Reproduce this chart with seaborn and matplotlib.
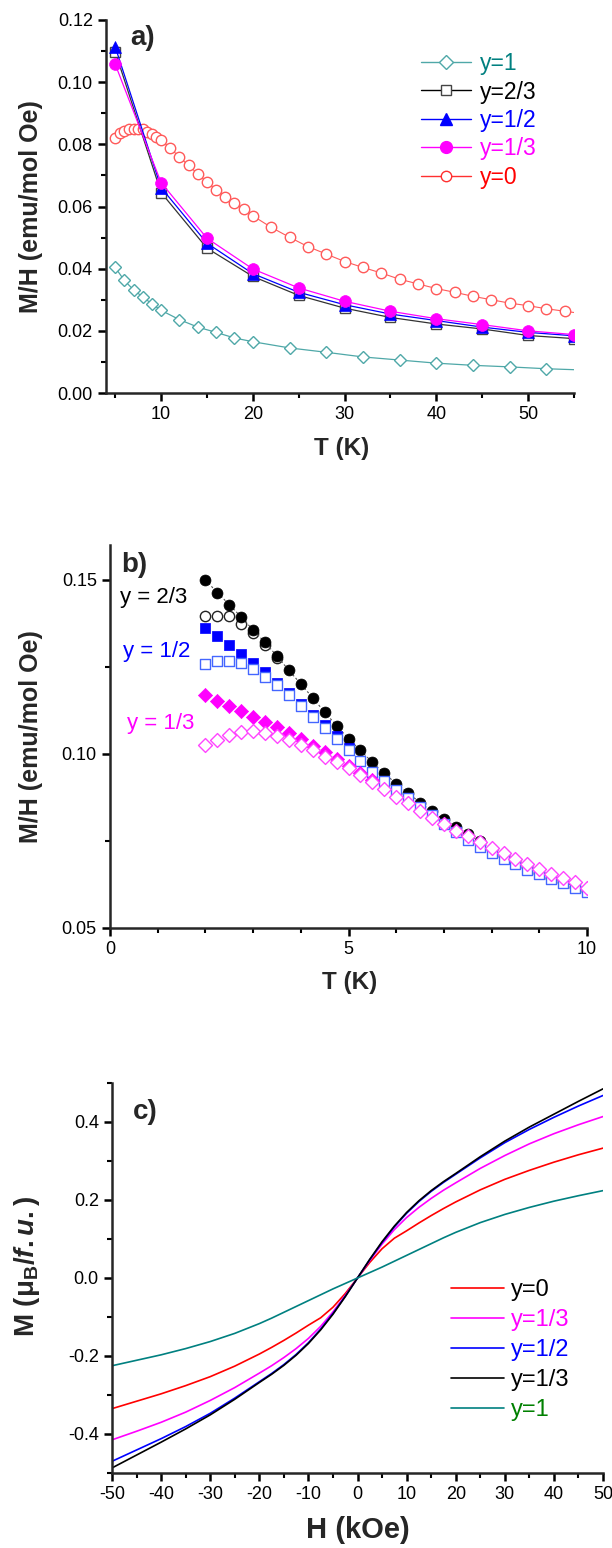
import numpy as np
import pandas as pd
import matplotlib
matplotlib.use("Agg")
import matplotlib.pyplot as plt
from matplotlib.ticker import MultipleLocator, FormatStrFormatter
from matplotlib.lines import Line2D
import seaborn as sns

# ---------------- data: panel a ----------------
T_y1 = [5, 6, 7, 8, 9, 10, 12, 14, 16, 18, 20, 24, 28, 32, 36, 40, 44, 48, 52, 56]
M_y1 = [0.0404, 0.0362, 0.0332, 0.0309, 0.0287, 0.0266, 0.0236, 0.0212, 0.0195, 0.0177,
        0.0165, 0.0145, 0.0131, 0.0116, 0.0106, 0.0096, 0.0089, 0.0084, 0.0078, 0.0074]

T_y0 = [5, 5.5, 6, 6.5, 7, 7.5, 8, 8.5, 9, 9.5, 10, 11, 12, 13, 14, 15, 16, 17, 18, 19, 20,
        22, 24, 26, 28, 30, 32, 34, 36, 38, 40, 42, 44, 46, 48, 50, 52, 54, 56]
M_y0 = [0.0821, 0.0836, 0.0844, 0.0848, 0.0850, 0.0850, 0.0848, 0.0841, 0.0832, 0.0825, 0.0814,
        0.0788, 0.0759, 0.0732, 0.0705, 0.0678, 0.0654, 0.0632, 0.0611, 0.0591, 0.0570,
        0.0533, 0.0501, 0.0471, 0.0447, 0.0423, 0.0404, 0.0386, 0.0366, 0.0351, 0.0336,
        0.0324, 0.0311, 0.0300, 0.0289, 0.0281, 0.0271, 0.0263, 0.0255]

T_5 = [5, 10, 15, 20, 25, 30, 35, 40, 45, 50, 55]
M_y23 = [0.1098, 0.0645, 0.0466, 0.0375, 0.0314, 0.0273, 0.0243, 0.0222, 0.0206, 0.0185, 0.0175]
M_y12 = [0.1114, 0.0661, 0.0482, 0.0384, 0.0324, 0.0284, 0.0254, 0.0233, 0.0212, 0.0195, 0.0184]
M_y13 = [0.1058, 0.0677, 0.0498, 0.0399, 0.0338, 0.0295, 0.0263, 0.0239, 0.0220, 0.0200, 0.0188]

# ---------------- data: panel b ----------------
Tb = [2.0, 2.25, 2.5, 2.75, 3.0, 3.25, 3.5, 3.75, 4.0, 4.25, 4.5, 4.75, 5.0, 5.25, 5.5, 5.75,
      6.0, 6.25, 6.5, 6.75, 7.0, 7.25, 7.5, 7.75, 8.0, 8.25, 8.5, 8.75, 9.0, 9.25, 9.5, 9.75, 10.0]
b_23_fc = [0.1500, 0.1463, 0.1429, 0.1393, 0.1356, 0.1320, 0.1281, 0.1240, 0.1201, 0.1161, 0.1120,
           0.1081, 0.1044, 0.1010, 0.0976, 0.0944, 0.0915, 0.0888, 0.0860, 0.0835, 0.0812, 0.0790,
           0.0769, 0.0749, 0.0728, 0.0708, 0.0690, 0.0674, 0.0659, 0.0645, 0.0632, 0.0619, 0.0606]
Tb_23_zfc = [2.0, 2.25, 2.5, 2.75, 3.0, 3.25, 3.5]
b_23_zfc = [0.1395, 0.1397, 0.1395, 0.1374, 0.1346, 0.1314, 0.1276]
Tb_12_fc = [2.0, 2.25, 2.5, 2.75, 3.0, 3.25, 3.5, 3.75, 4.0, 4.25, 4.5, 4.75, 5.0]
b_12_fc = [0.1363, 0.1339, 0.1313, 0.1287, 0.1262, 0.1236, 0.1204, 0.1175, 0.1144, 0.1113,
           0.1082, 0.1051, 0.1018]
b_12_zfc = [0.1259, 0.1266, 0.1268, 0.1261, 0.1245, 0.1222, 0.1197, 0.1168, 0.1137, 0.1106, 0.1075,
            0.1044, 0.1012, 0.0980, 0.0949, 0.0922, 0.0897, 0.0872, 0.0848, 0.0824, 0.0800, 0.0777,
            0.0754, 0.0732, 0.0716, 0.0698, 0.0684, 0.0668, 0.0655, 0.0641, 0.0628, 0.0615, 0.0602]
Tb_13_fc = [2.0, 2.25, 2.5, 2.75, 3.0, 3.25, 3.5, 3.75, 4.0, 4.25, 4.5, 4.75, 5.0, 5.25, 5.5]
b_13_fc = [0.1169, 0.1153, 0.1137, 0.1122, 0.1107, 0.1092, 0.1076, 0.1060, 0.1043, 0.1023, 0.1005,
           0.0986, 0.0965, 0.0945, 0.0924]
b_13_zfc = [0.1026, 0.1039, 0.1054, 0.1063, 0.1065, 0.1060, 0.1052, 0.1039, 0.1026, 0.1012, 0.0992,
            0.0976, 0.0959, 0.0939, 0.0919, 0.0898, 0.0877, 0.0858, 0.0836, 0.0817, 0.0800, 0.0780,
            0.0763, 0.0747, 0.0730, 0.0715, 0.0698, 0.0684, 0.0670, 0.0655, 0.0643, 0.0631, 0.0615]

# ---------------- data: panel c ----------------
H = [-50, -45, -40, -35, -30, -25, -20, -17.5, -15, -12.5, -10, -7.5, -5, -2.5, 0,
     2.5, 5, 7.5, 10, 12.5, 15, 17.5, 20, 25, 30, 35, 40, 45, 50]
Mc_y0 = [-0.335, -0.316, -0.297, -0.276, -0.253, -0.226, -0.195, -0.178, -0.160, -0.141, -0.121, -0.102,
         -0.075, -0.040, 0.0,
         0.040, 0.075, 0.102, 0.121, 0.141, 0.160, 0.178, 0.195, 0.226, 0.253, 0.276, 0.297, 0.316, 0.333]
Mc_y13 = [-0.415, -0.393, -0.370, -0.344, -0.314, -0.281, -0.244, -0.225, -0.204, -0.181, -0.155, -0.124,
          -0.087, -0.045, 0.0,
          0.045, 0.087, 0.124, 0.155, 0.181, 0.204, 0.225, 0.244, 0.281, 0.314, 0.344, 0.370, 0.393, 0.414]
Mc_y12 = [-0.470, -0.441, -0.412, -0.381, -0.347, -0.308, -0.266, -0.245, -0.222, -0.196, -0.166, -0.131,
          -0.091, -0.047, 0.0,
          0.047, 0.091, 0.131, 0.166, 0.196, 0.222, 0.245, 0.266, 0.308, 0.347, 0.381, 0.412, 0.441, 0.468]
Mc_y13b = [-0.487, -0.454, -0.421, -0.387, -0.351, -0.311, -0.268, -0.247, -0.224, -0.198, -0.168, -0.133,
           -0.093, -0.048, 0.0,
           0.048, 0.093, 0.133, 0.168, 0.198, 0.224, 0.247, 0.268, 0.311, 0.351, 0.387, 0.420, 0.453, 0.485]
Mc_y1 = [-0.225, -0.211, -0.197, -0.181, -0.163, -0.142, -0.117, -0.103, -0.088, -0.073, -0.058, -0.043,
         -0.028, -0.014, 0.0,
         0.014, 0.028, 0.043, 0.058, 0.073, 0.088, 0.103, 0.117, 0.142, 0.163, 0.181, 0.197, 0.211, 0.224]

legend_a = ["y=1", "y=2/3", "y=1/2", "y=1/3", "y=0"]
legend_c = ["y=0", "y=1/3", "y=1/2", "y=1/3", "y=1"]

# ---------------- style ----------------
sns.set_style("ticks")
plt.rcParams["font.family"] = ["Liberation Sans", "DejaVu Sans"]
plt.rcParams["axes.unicode_minus"] = False
plt.rcParams["mathtext.fontset"] = "custom"
plt.rcParams["mathtext.rm"] = "Liberation Sans:bold"
plt.rcParams["mathtext.it"] = "Liberation Sans:bold:italic"
plt.rcParams["mathtext.bf"] = "Liberation Sans:bold"
plt.rcParams["axes.linewidth"] = 1.8
for ax_ in ("xtick", "ytick"):
    plt.rcParams[f"{ax_}.major.width"] = 1.8
    plt.rcParams[f"{ax_}.minor.width"] = 1.5
    plt.rcParams[f"{ax_}.major.size"] = 6
    plt.rcParams[f"{ax_}.minor.size"] = 3.5
    plt.rcParams[f"{ax_}.direction"] = "out"
    plt.rcParams[f"{ax_}.labelsize"] = 13
    plt.rcParams[f"{ax_}.color"] = "black"

W, Hh = 612, 1548
fig = plt.figure(figsize=(W / 100, Hh / 100), dpi=100)


def add_axes(l, r, t, b):
    return fig.add_axes([l / W, 1 - b / Hh, (r - l) / W, (b - t) / Hh])


ax_a = add_axes(106, 574, 20, 393)
ax_b = add_axes(110, 587, 545, 928)
ax_c = add_axes(112, 603, 1083, 1473)

TEAL_L = "#4fa8a8"
RED_L = "#ff5a5a"

# ---------------- panel a ----------------
sns.lineplot(x=T_y1, y=M_y1, ax=ax_a, color=TEAL_L, linewidth=0.9, marker="D", markersize=6.5,
             markerfacecolor="white", markeredgecolor=TEAL_L, markeredgewidth=1.0,
             markevery=list(range(len(T_y1) - 1)), sort=False)
sns.lineplot(x=T_y0, y=M_y0, ax=ax_a, color=RED_L, linewidth=0.8, marker="o", markersize=7.5,
             markerfacecolor="white", markeredgecolor=RED_L, markeredgewidth=1.0,
             markevery=list(range(len(T_y0) - 1)), sort=False)
sns.lineplot(x=T_5, y=M_y23, ax=ax_a, color="#333333", linewidth=0.9, marker="s", markersize=6.5,
             markerfacecolor="white", markeredgecolor="#444444", markeredgewidth=1.0, sort=False)
sns.lineplot(x=T_5, y=M_y12, ax=ax_a, color="#0000ff", linewidth=0.9, marker="^", markersize=8,
             markerfacecolor="#0000ff", markeredgecolor="#0000ff", markeredgewidth=0.5, sort=False)
sns.lineplot(x=T_5, y=M_y13, ax=ax_a, color="#ff00ff", linewidth=0.9, marker="o", markersize=8.5,
             markerfacecolor="#ff00ff", markeredgecolor="#ff00ff", markeredgewidth=0.5, sort=False)
ax_a.set_xlim(4, 55)
ax_a.set_ylim(0, 0.12)
ax_a.xaxis.set_major_locator(MultipleLocator(10))
ax_a.xaxis.set_minor_locator(MultipleLocator(5))
ax_a.yaxis.set_major_locator(MultipleLocator(0.02))
ax_a.yaxis.set_minor_locator(MultipleLocator(0.01))
ax_a.yaxis.set_major_formatter(FormatStrFormatter("%.2f"))
ax_a.set_xlabel("T (K)", fontsize=17.5, fontweight="bold")
ax_a.set_ylabel("M/H (emu/mol Oe)", fontsize=18, fontweight="bold")
ax_a.xaxis.set_label_coords((342 - 106) / 468, -(448 - 393) / 373)
ax_a.xaxis.label.set_verticalalignment("center")
ax_a.yaxis.set_label_coords(-0.135, 0.5)
ax_a.text(0.052, 0.952, "a)", transform=ax_a.transAxes, fontsize=20, fontweight="bold", va="center")

h_a = [
    Line2D([], [], color=TEAL_L, lw=1.0, marker="D", ms=7, mfc="white", mec=TEAL_L),
    Line2D([], [], color="black", lw=1.0, marker="s", ms=7, mfc="white", mec="#444444"),
    Line2D([], [], color="#0000ff", lw=1.0, marker="^", ms=8.5, mfc="#0000ff", mec="#0000ff"),
    Line2D([], [], color="#ff00ff", lw=1.0, marker="o", ms=8.5, mfc="#ff00ff", mec="#ff00ff"),
    Line2D([], [], color="#ff3030", lw=1.0, marker="o", ms=7.5, mfc="white", mec="#ff3030"),
]
leg_a = ax_a.legend(h_a, legend_a, loc="upper left", bbox_to_anchor=(421 / W, 1 - 52 / Hh),
                    bbox_transform=fig.transFigure, frameon=False, fontsize=16.5, handlelength=2.2,
                    handletextpad=0.35, labelspacing=0.24, borderpad=0, borderaxespad=0)
for txt, c in zip(leg_a.get_texts(), ["#008080", "black", "#0000ff", "#ff00ff", "#ff0000"]):
    txt.set_color(c)

# ---------------- panel b ----------------
sns.scatterplot(x=Tb_23_zfc, y=b_23_zfc, ax=ax_b, marker="o", s=55, facecolor="white",
                edgecolor="#222222", linewidth=1.0, color="black", zorder=2)
sns.lineplot(x=Tb, y=b_23_fc, ax=ax_b, color="#555555", linewidth=0.8, linestyle=(0, (2, 2)),
             sort=False, zorder=2)
sns.scatterplot(x=Tb, y=b_23_fc, ax=ax_b, marker="o", s=62, color="black", edgecolor="black",
                linewidth=0.5, zorder=3)
sns.scatterplot(x=Tb_12_fc, y=b_12_fc, ax=ax_b, marker="s", s=52, color="#0000ff", edgecolor="#0000ff",
                linewidth=0.5, zorder=4)
sns.scatterplot(x=Tb, y=b_12_zfc, ax=ax_b, marker="s", s=50, facecolor="white", edgecolor="#4466ff",
                linewidth=1.0, color="#4466ff", zorder=5)
sns.scatterplot(x=Tb_13_fc, y=b_13_fc, ax=ax_b, marker="D", s=52, color="#ff00ff", edgecolor="#ff00ff",
                linewidth=0.5, zorder=6)
sns.scatterplot(x=Tb, y=b_13_zfc, ax=ax_b, marker="D", s=50, facecolor="white", edgecolor="#ff44ff",
                linewidth=1.0, color="#ff44ff", zorder=7)
ax_b.set_xlim(0, 10)
ax_b.set_ylim(0.05, 0.16)
ax_b.xaxis.set_major_locator(MultipleLocator(5))
ax_b.xaxis.set_minor_locator(MultipleLocator(1))
ax_b.yaxis.set_major_locator(MultipleLocator(0.05))
ax_b.yaxis.set_minor_locator(MultipleLocator(0.025))
ax_b.yaxis.set_major_formatter(FormatStrFormatter("%.2f"))
ax_b.set_xlabel("T (K)", fontsize=17.5, fontweight="bold")
ax_b.set_ylabel("M/H (emu/mol Oe)", fontsize=18, fontweight="bold")
ax_b.xaxis.set_label_coords((350 - 110) / 477, -(983 - 928) / 383)
ax_b.xaxis.label.set_verticalalignment("center")
ax_b.yaxis.set_label_coords(-0.141, 0.5)
ax_b.text(0.023, 0.948, "b)", transform=ax_b.transAxes, fontsize=20, fontweight="bold", va="center")
ax_b.text(0.021, 0.862, "y = 2/3", transform=ax_b.transAxes, fontsize=16, color="black", va="center")
ax_b.text(0.027, 0.721, "y = 1/2", transform=ax_b.transAxes, fontsize=16, color="#0000ff", va="center")
ax_b.text(0.036, 0.533, "y = 1/3", transform=ax_b.transAxes, fontsize=16, color="#ff00ff", va="center")

# ---------------- panel c ----------------
curves = [(Mc_y0, "#ff0000"), (Mc_y13, "#ff00ff"), (Mc_y12, "#0000ff"), (Mc_y13b, "black"), (Mc_y1, "#008080")]
for vals, col in curves:
    sns.lineplot(x=H, y=vals, ax=ax_c, color=col, linewidth=1.2, sort=False)
ax_c.set_xlim(-50, 50)
ax_c.set_ylim(-0.5, 0.5)
ax_c.xaxis.set_major_locator(MultipleLocator(10))
ax_c.xaxis.set_minor_locator(MultipleLocator(5))
ax_c.yaxis.set_major_locator(MultipleLocator(0.2))
ax_c.yaxis.set_minor_locator(MultipleLocator(0.1))
ax_c.yaxis.set_major_formatter(FormatStrFormatter("%.1f"))
ax_c.set_xlabel("H (kOe)", fontsize=21, fontweight="bold")
ax_c.set_ylabel(r"M ($\mathregular{\mu_B}$/$\it{f.u.}$)", fontsize=20, fontweight="bold")
ax_c.xaxis.set_label_coords((358 - 112) / 491, -(1530 - 1473) / 390)
ax_c.xaxis.label.set_verticalalignment("center")
ax_c.yaxis.set_label_coords(-(112 - 42) / 491, 0.53)
ax_c.text(0.043, 0.926, "c)", transform=ax_c.transAxes, fontsize=20, fontweight="bold", va="center")

h_c = [Line2D([], [], color=c, lw=1.2) for _, c in curves]
leg_c = ax_c.legend(h_c, legend_c, loc="upper left", bbox_to_anchor=(451 / W, 1 - 1279 / Hh),
                    bbox_transform=fig.transFigure, frameon=False, fontsize=17, handlelength=2.25,
                    handletextpad=0.3, labelspacing=0.34, borderpad=0, borderaxespad=0)
for txt, c in zip(leg_c.get_texts(), ["black", "#ff00ff", "#0000ff", "black", "#008000"]):
    txt.set_color(c)

for ax in (ax_a, ax_b, ax_c):
    sns.despine(ax=ax)
    ax.tick_params(which="both", colors="black", labelcolor="black")

fig.savefig("out.png", dpi=100)
